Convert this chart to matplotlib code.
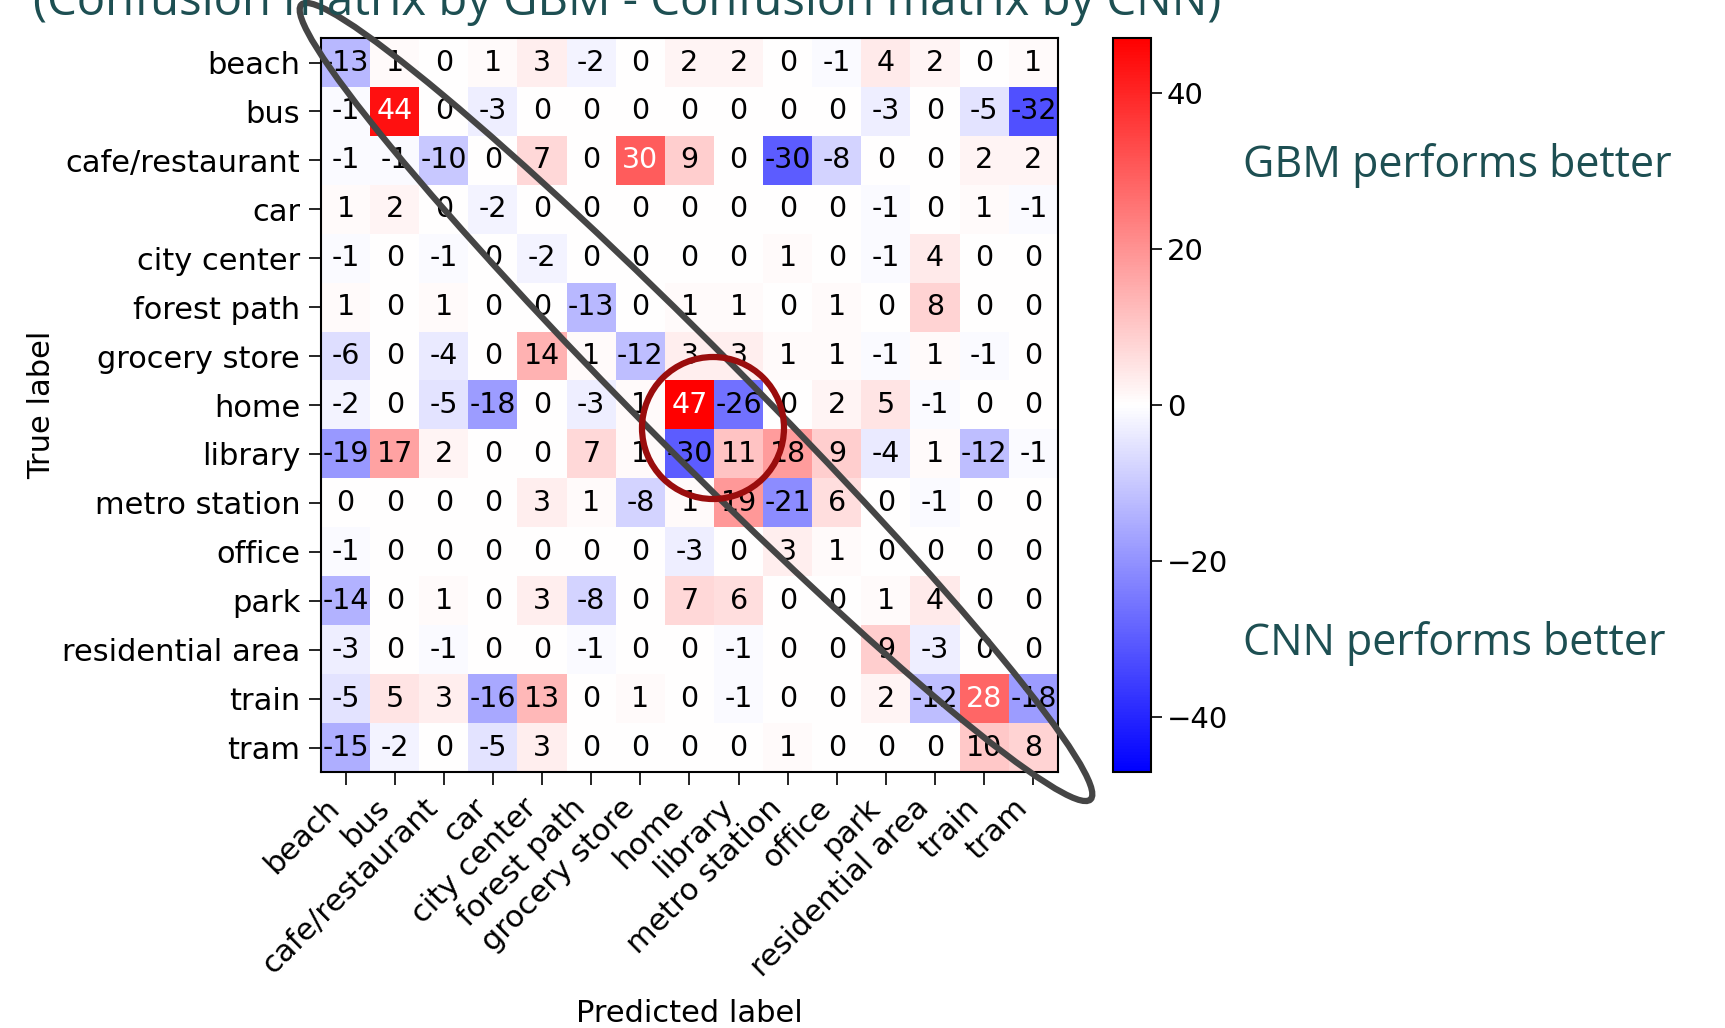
import matplotlib.pyplot as plt
import numpy as np
from matplotlib.patches import Ellipse, Circle

# class names (rows = true label, cols = predicted label)
classes = ["beach", "bus", "cafe/restaurant", "car", "city center", "forest path",
           "grocery store", "home", "library", "metro station", "office", "park",
           "residential area", "train", "tram"]

# difference matrix: GBM confusion matrix - CNN confusion matrix
row_beach = [-13, 1, 0, 1, 3, -2, 0, 2, 2, 0, -1, 4, 2, 0, 1]
row_bus = [-1, 44, 0, -3, 0, 0, 0, 0, 0, 0, 0, -3, 0, -5, -32]
row_cafe = [-1, -1, -10, 0, 7, 0, 30, 9, 0, -30, -8, 0, 0, 2, 2]
row_car = [1, 2, 0, -2, 0, 0, 0, 0, 0, 0, 0, -1, 0, 1, -1]
row_city = [-1, 0, -1, 0, -2, 0, 0, 0, 0, 1, 0, -1, 4, 0, 0]
row_forest = [1, 0, 1, 0, 0, -13, 0, 1, 1, 0, 1, 0, 8, 0, 0]
row_grocery = [-6, 0, -4, 0, 14, 1, -12, 3, 3, 1, 1, -1, 1, -1, 0]
row_home = [-2, 0, -5, -18, 0, -3, 1, 47, -26, 0, 2, 5, -1, 0, 0]
row_library = [-19, 17, 2, 0, 0, 7, 1, -30, 11, 18, 9, -4, 1, -12, -1]
row_metro = [0, 0, 0, 0, 3, 1, -8, 1, 19, -21, 6, 0, -1, 0, 0]
row_office = [-1, 0, 0, 0, 0, 0, 0, -3, 0, 3, 1, 0, 0, 0, 0]
row_park = [-14, 0, 1, 0, 3, -8, 0, 7, 6, 0, 0, 1, 4, 0, 0]
row_resid = [-3, 0, -1, 0, 0, -1, 0, 0, -1, 0, 0, 9, -3, 0, 0]
row_train = [-5, 5, 3, -16, 13, 0, 1, 0, -1, 0, 0, 2, -12, 28, -18]
row_tram = [-15, -2, 0, -5, 3, 0, 0, 0, 0, 1, 0, 0, 0, 10, 8]

cm = np.array([row_beach, row_bus, row_cafe, row_car, row_city, row_forest,
               row_grocery, row_home, row_library, row_metro, row_office,
               row_park, row_resid, row_train, row_tram])

teal = "#1d4f52"

fig = plt.figure(figsize=(17.25, 10.28), dpi=100)
ax = fig.add_axes([0.1861, 0.249, 0.4272, 0.714])
cax = fig.add_axes([0.6452, 0.249, 0.022, 0.714])

vmax = np.abs(cm).max()
im = ax.imshow(cm, interpolation="nearest", cmap="bwr", vmin=-vmax, vmax=vmax, aspect="auto")
cb = fig.colorbar(im, cax=cax)
cb.set_ticks([-40, -20, 0, 20, 40])
cb.ax.tick_params(labelsize=21, length=8, width=1.2)
cb.outline.set_linewidth(1.5)

ticks = np.arange(len(classes))
ax.set_xticks(ticks)
ax.set_xticklabels(classes, rotation=45, ha="right", fontsize=22)
ax.set_yticks(ticks)
ax.set_yticklabels(classes, fontsize=22)
ax.tick_params(length=9, width=1.2, pad=6)
for s in ax.spines.values():
    s.set_linewidth(1.5)

thresh = cm.max() / 2.0
for i in range(cm.shape[0]):
    for j in range(cm.shape[1]):
        ax.text(j, i, str(cm[i, j]), ha="center", va="center", fontsize=20.5,
                color="white" if cm[i, j] > thresh else "black")

ax.set_xlabel("Predicted label", fontsize=22, labelpad=12)
ax.set_ylabel("True label", fontsize=22)

# annotations drawn on top in figure pixel coords (y measured from top)
W, H = 1725, 1028
def fx(px):
    return px / W
def fy(py):
    return 1 - py / H

fig.text(fx(33), fy(15), "(Confusion matrix by GBM - Confusion matrix by CNN)",
         fontsize=34, color=teal, family="Open Sans", ha="left", va="baseline")
fig.text(fx(1243), fy(165), "GBM performs better", fontsize=31, color=teal,
         family="Open Sans", ha="left", va="center")
fig.text(fx(1243), fy(644), "CNN performs better", fontsize=31, color=teal,
         family="Open Sans", ha="left", va="center")

# ellipse along the diagonal and circle around home/library
ell = Ellipse((696, H - 402), width=1120, height=104, angle=-45.2,
              fill=False, edgecolor="#454545", linewidth=4.5,
              transform=None)
fig.patches.append(ell)
circ = Circle((713, H - 428), radius=71, fill=False, edgecolor="#9a0d0d",
              linewidth=4.5, transform=None)
fig.patches.append(circ)

fig.savefig("out.png", dpi=100)
